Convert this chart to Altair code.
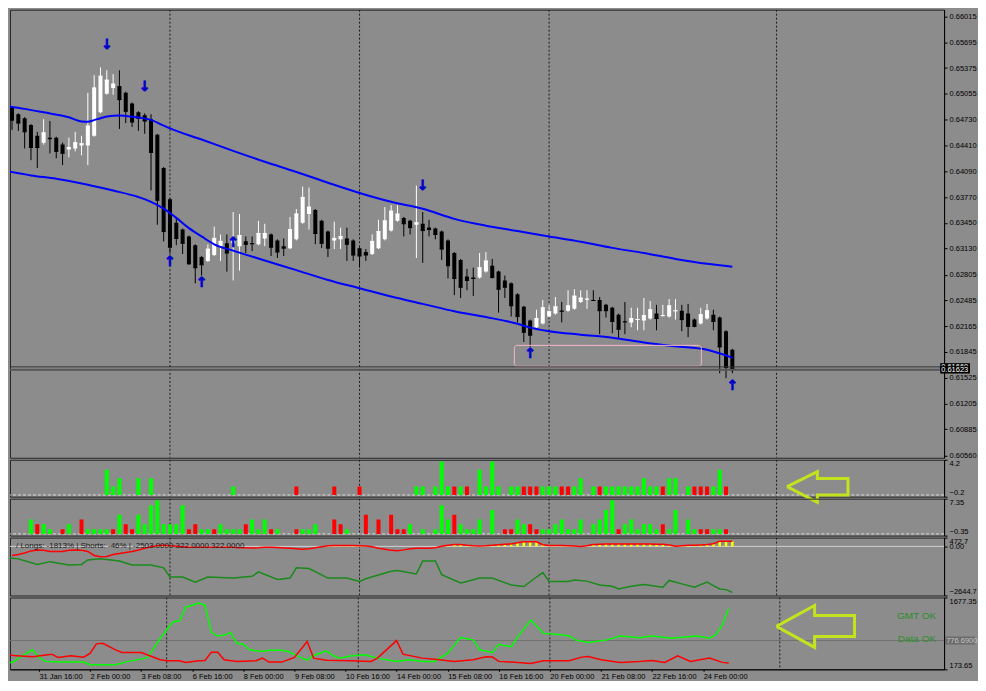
import altair as alt
import pandas as pd

# ---------------- data ----------------
price_ticks = [0.66015, 0.65695, 0.65375, 0.65055, 0.64730, 0.64410, 0.64090, 0.63770, 0.63450,
               0.63130, 0.62805, 0.62485, 0.62165, 0.61845, 0.61525, 0.61205, 0.60885, 0.60560]
time_k = [5, 13, 21, 29, 37, 45, 53, 61, 69, 77, 85, 93, 101, 109]
time_labels = ["31 Jan 16:00", "2 Feb 00:00", "3 Feb 08:00", "6 Feb 16:00", "8 Feb 00:00",
               "9 Feb 08:00", "10 Feb 16:00", "14 Feb 00:00", "15 Feb 08:00", "16 Feb 16:00",
               "20 Feb 00:00", "21 Feb 08:00", "22 Feb 16:00", "24 Feb 00:00"]
week_sep_k = [25, 55, 85, 121]

c_open = [0.64885, 0.64800, 0.64752, 0.64666, 0.64533, 0.64447, 0.64509, 0.64509, 0.64423, 0.64363,
          0.64375, 0.64411, 0.64411, 0.64533, 0.64825, 0.65055, 0.65128, 0.65152, 0.65068, 0.64933,
          0.64825, 0.64788, 0.64739, 0.64545, 0.64132, 0.63743, 0.63451, 0.63367, 0.63281, 0.63172,
          0.63026, 0.62977, 0.63050, 0.63160, 0.63196, 0.63196, 0.63160, 0.63220, 0.63196, 0.63184,
          0.63257, 0.63306, 0.63232, 0.63160, 0.63136, 0.63245, 0.63451, 0.63561, 0.63610, 0.63475,
          0.63342, 0.63232, 0.63245, 0.63257, 0.63232, 0.63136, 0.63087, 0.63063, 0.63136, 0.63245,
          0.63354, 0.63475, 0.63512, 0.63475, 0.63427, 0.63439, 0.63391, 0.63379, 0.63342, 0.63232,
          0.63075, 0.62989, 0.62783, 0.62771, 0.62771, 0.62844, 0.62917, 0.62844, 0.62734, 0.62698,
          0.62564, 0.62407, 0.62236, 0.62152, 0.62200, 0.62285, 0.62322, 0.62358, 0.62358, 0.62382,
          0.62467, 0.62498, 0.62491, 0.62491, 0.62431, 0.62395, 0.62309, 0.62224, 0.62212, 0.62243,
          0.62236, 0.62261, 0.62322, 0.62291, 0.62285, 0.62352, 0.62358, 0.62322, 0.62248, 0.62200,
          0.62261, 0.62309, 0.62273, 0.62103, 0.61872]
c_high = [0.64897, 0.64812, 0.64764, 0.64678, 0.64582, 0.64739, 0.64715, 0.64521, 0.64447, 0.64509,
          0.64582, 0.64533, 0.65068, 0.65286, 0.65383, 0.65347, 0.65298, 0.65347, 0.65080, 0.64946,
          0.64837, 0.64812, 0.64800, 0.64557, 0.64144, 0.63755, 0.63524, 0.63379, 0.63293, 0.63184,
          0.63038, 0.63184, 0.63403, 0.63306, 0.63306, 0.63585, 0.63561, 0.63281, 0.63281, 0.63475,
          0.63439, 0.63318, 0.63245, 0.63257, 0.63524, 0.63622, 0.63901, 0.63889, 0.63622, 0.63488,
          0.63354, 0.63464, 0.63391, 0.63391, 0.63245, 0.63148, 0.63124, 0.63306, 0.63488, 0.63646,
          0.63670, 0.63670, 0.63524, 0.63488, 0.63913, 0.63585, 0.63488, 0.63391, 0.63354, 0.63245,
          0.63087, 0.63001, 0.62880, 0.62893, 0.63075, 0.63087, 0.63001, 0.62856, 0.62795, 0.62710,
          0.62576, 0.62419, 0.62248, 0.62370, 0.62491, 0.62431, 0.62528, 0.62467, 0.62613, 0.62625,
          0.62613, 0.62613, 0.62613, 0.62528, 0.62443, 0.62407, 0.62322, 0.62467, 0.62395, 0.62395,
          0.62516, 0.62479, 0.62431, 0.62431, 0.62503, 0.62503, 0.62431, 0.62443, 0.62261, 0.62395,
          0.62443, 0.62370, 0.62285, 0.62115, 0.61884]
c_low = [0.64606, 0.64594, 0.64375, 0.64229, 0.64132, 0.64423, 0.64314, 0.64253, 0.64168, 0.64265,
         0.64339, 0.64290, 0.64168, 0.64521, 0.64812, 0.65043, 0.65043, 0.64618, 0.64690, 0.64642,
         0.64594, 0.64557, 0.63853, 0.63427, 0.63220, 0.63075, 0.63172, 0.63063, 0.62929, 0.62698,
         0.62795, 0.62965, 0.63038, 0.62977, 0.62844, 0.62734, 0.62856, 0.63075, 0.63099, 0.63172,
         0.63160, 0.63038, 0.63014, 0.63038, 0.63124, 0.63232, 0.63439, 0.63367, 0.63184, 0.63136,
         0.63026, 0.63124, 0.63124, 0.62977, 0.62977, 0.62893, 0.62977, 0.63050, 0.63124, 0.63232,
         0.63342, 0.63464, 0.63281, 0.63306, 0.63014, 0.62953, 0.63281, 0.63245, 0.62989, 0.62759,
         0.62552, 0.62516, 0.62613, 0.62540, 0.62759, 0.62832, 0.62759, 0.62334, 0.62516, 0.62285,
         0.62212, 0.61969, 0.61909, 0.62140, 0.62188, 0.62273, 0.62309, 0.62212, 0.62346, 0.62370,
         0.62455, 0.62382, 0.62479, 0.62066, 0.62273, 0.62078, 0.62017, 0.62066, 0.62152, 0.62115,
         0.62115, 0.62248, 0.62115, 0.62285, 0.62273, 0.62248, 0.62103, 0.62030, 0.62152, 0.62188,
         0.62248, 0.62115, 0.61580, 0.61519, 0.61580]
c_close = [0.64727, 0.64690, 0.64582, 0.64387, 0.64387, 0.64569, 0.64496, 0.64339, 0.64314, 0.64387,
           0.64447, 0.64435, 0.64654, 0.65128, 0.65274, 0.65225, 0.65176, 0.64982, 0.64837, 0.64703,
           0.64752, 0.64715, 0.64326, 0.63731, 0.63342, 0.63148, 0.63257, 0.63196, 0.62941, 0.62893,
           0.62929, 0.63124, 0.63257, 0.63220, 0.63075, 0.63232, 0.63293, 0.63184, 0.63190, 0.63318,
           0.63318, 0.63148, 0.63087, 0.63136, 0.63367, 0.63561, 0.63767, 0.63646, 0.63318, 0.63196,
           0.63136, 0.63257, 0.63281, 0.63184, 0.63050, 0.63038, 0.63050, 0.63220, 0.63342, 0.63475,
           0.63597, 0.63561, 0.63439, 0.63391, 0.63451, 0.63354, 0.63367, 0.63306, 0.63124, 0.62917,
           0.62759, 0.62650, 0.62734, 0.62759, 0.62893, 0.62977, 0.62771, 0.62625, 0.62650, 0.62419,
           0.62285, 0.62090, 0.62054, 0.62261, 0.62395, 0.62346, 0.62407, 0.62352, 0.62419, 0.62540,
           0.62516, 0.62504, 0.62485, 0.62358, 0.62358, 0.62224, 0.62127, 0.62218, 0.62261, 0.62249,
           0.62297, 0.62370, 0.62261, 0.62297, 0.62419, 0.62358, 0.62248, 0.62164, 0.62164, 0.62309,
           0.62358, 0.62224, 0.61908, 0.61653, 0.61623]

band_up_k = [-1, 2, 5, 9, 11, 12, 13, 14, 15, 17, 18, 20, 22, 24, 25, 30, 35, 40, 45, 50, 55,
             60, 65, 70, 75, 80, 85, 90, 95, 100, 105, 110, 114]
band_up_p = [0.64903, 0.64867, 0.64824, 0.64763, 0.64711, 0.64706, 0.64727, 0.64751, 0.64772,
             0.64785, 0.64779, 0.64760, 0.64730, 0.64659, 0.64624, 0.64487, 0.64345, 0.64210,
             0.64083, 0.63949, 0.63822, 0.63712, 0.63625, 0.63500, 0.63415, 0.63348, 0.63281,
             0.63216, 0.63139, 0.63075, 0.63002, 0.62941, 0.62905]
band_lo_k = [-1, 3, 7, 12, 16, 20, 22, 24, 26, 28, 30, 32, 35, 40, 45, 50, 55, 60, 65, 70, 75,
             80, 82, 85, 90, 95, 100, 105, 110, 114]
band_lo_p = [0.64095, 0.64040, 0.63998, 0.63925, 0.63852, 0.63771, 0.63712, 0.63628, 0.63512,
             0.63385, 0.63281, 0.63184, 0.63105, 0.62983, 0.62862, 0.62740, 0.62637, 0.62534,
             0.62443, 0.62352, 0.62279, 0.62196, 0.62148, 0.62103, 0.62060, 0.62023, 0.61963,
             0.61915, 0.61872, 0.61774]

sig_k = [15, 21, 65, 25, 30, 35, 82, 114]
sig_p = [0.65656, 0.65140, 0.63913, 0.62965, 0.62698, 0.63196, 0.61823, 0.61422]
sig_glyph = ["↓", "↓", "↓", "↑", "↑", "↑", "↑", "↑"]

zone_k = [79.5, 109.1]
zone_p = [0.61927, 0.61666]

quote_p = [0.61660, 0.61623]
quote_lab = ["0.61660", "0.61623"]

h1_k = [15, 16, 17, 20, 22, 35, 45, 51, 55, 64, 65, 67, 68, 69, 70, 71, 72, 74, 75, 76,
        77, 79, 80, 81, 82, 83, 84, 85, 86, 87, 88, 89, 90, 92, 93, 94, 95, 96, 97, 98,
        99, 100, 101, 102, 103, 104, 105, 107, 108, 109, 110, 111, 112, 113]
h1_v = [3, 1, 2, 2, 2, 1, 1, 1, 1, 1, 1, 1, 4, 1, 1, 1, 1, 3, 1, 4,
        1, 1, 1, 1, 1, 1, 1, 1, 1, 1, 1, 1, 2, 1, 1, 1, 1, 1, 1, 1,
        1, 2, 1, 1, 1, 2, 2, 1, 1, 1, 1, 1, 3, 1]
h1_col = list("gggggg" "rrr" "ggggg" "r" "g" "r" "gggggg" "rrr" "ggg" "rr" "ggg" "r"
              "ggggggggg" "r" "ggg" "rrr" "gg" "r")

h2_k = [3, 4, 5, 6, 8, 9, 11, 12, 13, 14, 15, 16, 17, 18, 19, 20, 21, 22, 23, 24,
        25, 26, 27, 28, 29, 30, 31, 32, 33, 34, 35, 36, 37, 38, 39, 40, 41, 42, 45, 46,
        47, 48, 51, 52, 53, 56, 58, 60, 61, 62, 63, 65, 67, 68, 69, 70, 71, 72, 73, 74,
        76, 78, 79, 80, 81, 82, 83, 84, 85, 86, 87, 88, 89, 90, 92, 93, 94, 95, 96, 97,
        98, 99, 100, 101, 102, 103, 104, 105, 107, 108, 109, 110, 111, 112, 113]
h2_v = [3, 2, 2, 1, 1, 2, 3, 1, 1, 1, 1, 1, 4, 2, 1, 4, 2, 6, 7, 2,
        2, 2, 6, 1, 2, 1, 1, 1, 2, 1, 1, 1, 2, 3, 1, 3, 1, 1, 1, 1,
        1, 2, 3, 2, 1, 4, 3, 4, 1, 1, 2, 1, 1, 6, 3, 4, 2, 1, 1, 3,
        5, 1, 1, 3, 2, 2, 1, 1, 1, 2, 3, 1, 1, 3, 2, 3, 5, 7, 1, 2,
        3, 1, 2, 2, 1, 2, 1, 5, 3, 1, 1, 1, 1, 1, 1]
h2_col = list("grggrgrggg" "grgrrggggg" "gggrrggrgg" "ggrgggrgrg" "ggrrgrrrrr"
              "gggggrgggg" "grrggrrggg" "ggggggggrg" "gggggrgggg" "rrggr")

p4_red = [-491, -436, -353, -243, -199, -215, -270, -270, -270, -215,
          -199, -215, -270, -491, -563, -546, -436, -381, -326, -270,
          -199, -105, -22, 33, 61, 33, 6, -22, -50, -50,
          -50, -50, -50, -50, -50, -50, -77, -77, -88, -77,
          -50, -50, -66, -88, -105, -132, -160, -132, -77, -22,
          33, 44, 44, 44, 44, 33, 22, -22, -105, -160,
          -215, -232, -188, -132, -105, -105, -105, -77, 6, 61,
          99, 99, 61, 33, 22, 33, 61, 88, 116, 132,
          199, 243, 243, 243, 88, 44, 44, 44, 33, 22,
          -11, 33, 99, 116, 132, 132, 132, 132, 132, 132,
          132, 132, 116, 116, 77, 6, 33, 61, 61, 77,
          99, 144, 282, 282, 282]
p4_green_k = [-1, 1, 4, 6, 9, 11, 12, 14, 17, 19, 22, 24, 25, 27, 29, 31, 35, 38, 39, 42,
              44, 45, 47, 50, 53, 55, 56, 60, 61, 64, 65, 67, 68, 71, 72, 74, 76, 77, 79, 81,
              83, 84, 85, 88, 89, 91, 93, 95, 96, 98, 100, 103, 104, 106, 108, 110, 111, 112, 113, 114]
p4_green_v = [-602, -673, -972, -822, -1005, -972, -729, -673, -784, -1005,
              -1005, -1154, -1650, -1650, -1926, -1650, -1706, -1612, -1374, -1777,
              -1706, -1154, -1192, -1706, -1706, -1888, -1744, -1336, -1303, -1485,
              -784, -784, -1524, -1965, -1888, -1706, -1706, -1833, -2076, -2164,
              -1650, -1413, -1888, -1888, -1816, -1871, -2076, -2147, -2296, -2147,
              -2053, -2202, -1833, -2020, -2202, -1926, -2109, -2296, -2329, -2478]
p4_title = "/  Longs: -1813% | Shorts: -46% |  -2503.0000 322.0000 322.0000"

p5_green_k = [-1, 1, 2, 4, 5, 6, 8, 10, 12, 13, 17, 19, 21, 22, 24, 25, 26, 27, 28, 29,
              30, 31, 32, 33, 34, 35, 36, 37, 38, 40, 41, 43, 44, 46, 47, 48, 50, 51, 52, 54,
              56, 58, 61, 63, 65, 67, 69, 71, 73, 74, 76, 77, 78, 79, 80, 82, 84, 86, 88, 89,
              91, 94, 96, 99, 101, 104, 108, 110, 111, 112, 113]
p5_green_v = [284, 325, 423, 582, 423, 340, 325, 325, 325, 271, 271, 340, 387, 423, 823, 997, 1169, 1184, 1480, 1516,
              1563, 1516, 947, 870, 885, 947, 719, 698, 582, 547, 574, 574, 547, 423, 366, 464, 561, 464, 408, 458,
              478, 408, 340, 375, 340, 340, 512, 837, 790, 582, 526, 698, 665, 651, 858, 1204, 926, 906, 873, 790,
              734, 790, 873, 837, 873, 823, 873, 823, 906, 1101, 1445]
p5_red_k = [-1, 1, 4, 7, 8, 10, 12, 13, 14, 15, 17, 18, 21, 24, 25, 27, 28, 30, 31, 32,
            33, 34, 36, 39, 40, 41, 43, 45, 47, 48, 50, 54, 57, 58, 61, 62, 65, 67, 70, 73,
            75, 76, 77, 79, 82, 84, 88, 90, 91, 93, 96, 99, 101, 103, 105, 107, 110, 112, 113]
p5_red_v = [512, 464, 437, 491, 423, 458, 429, 506, 707, 719, 582, 526, 526, 375, 354, 354, 319, 354, 360, 533,
            533, 375, 340, 354, 408, 325, 325, 423, 754, 408, 366, 354, 340, 408, 775, 491, 408, 387, 340, 375,
            437, 430, 340, 325, 298, 354, 354, 429, 443, 375, 319, 340, 360, 319, 458, 340, 408, 319, 304]
p5_level = 776.69
status_text = ["GMT OK", "Data OK"]
status_v = [1280, 815]

# hollow call-out arrows (annotation outlines, in each panel's data units)
callout1_k = [122.66, 127.45, 127.45, 132.3, 132.3, 127.45, 127.45, 122.66]
callout1_v = [0.99, 2.77, 1.98, 1.98, 0.0, 0.0, -0.88, 0.99]
callout2_k = [120.47, 126.45, 126.45, 132.7, 132.7, 126.45, 126.45, 120.47]
callout2_v = [1072, 1510, 1301, 1301, 863, 863, 633, 1072]

# ---------------- chart ----------------
FONT = "Liberation Sans"
W = 936
xs = alt.Scale(domain=[0.47, 0.47 + W / 6.4], nice=False, zero=False)
BOX_K = [146.9, 151.6]


def X(field="k", axis=None):
    return alt.X(f"{field}:Q", scale=xs, axis=axis)


def Yf(field, scale, axis):
    return alt.Y(f"{field}:Q", scale=scale, axis=axis)


def grid_layer(xaxis=None):
    return alt.Chart(pd.DataFrame({"k": week_sep_k})).mark_rule(
        color="#1c1c1c", strokeDash=[2, 2], strokeWidth=1, clip=True).encode(x=X("k", xaxis))


# ---- main price panel ----
ys_main = alt.Scale(domain=[0.60530, 0.66100], nice=False, zero=False)
ax_main = alt.Axis(orient="right", values=price_ticks, format=".5f", title=None, labelFlush=False)
cdf = pd.DataFrame({"k": list(range(len(c_open))), "o": c_open, "h": c_high, "l": c_low, "c": c_close})
cdf["dir"] = ["bull" if c >= o else "bear" for o, c in zip(c_open, c_close)]
dir_col = alt.Color("dir:N", scale=alt.Scale(domain=["bull", "bear"], range=["#ffffff", "#000000"]), legend=None)


def YM(field):
    return Yf(field, ys_main, ax_main)


wick = alt.Chart(cdf).mark_rule(strokeWidth=1, clip=True).encode(x=X(), y=YM("l"), y2="h:Q", color=dir_col)
body = alt.Chart(cdf).mark_bar(size=4, clip=True).encode(x=X(), y=YM("o"), y2="c:Q", color=dir_col)
ctick = alt.Chart(cdf).transform_calculate(ka="datum.k - 0.33", kb="datum.k + 0.33").mark_rule(
    strokeWidth=1, clip=True).encode(x=X("ka"), x2="kb:Q", y=YM("c"), color=dir_col)

band_df = pd.concat([
    pd.DataFrame({"k": band_up_k, "p": band_up_p, "band": "upper"}),
    pd.DataFrame({"k": band_lo_k, "p": band_lo_p, "band": "lower"}),
])
bands = alt.Chart(band_df).mark_line(color="#0000ff", strokeWidth=2, clip=True, interpolate="monotone").encode(
    x=X(), y=YM("p"), detail="band:N")

zone = alt.Chart(pd.DataFrame({"k0": [zone_k[0]], "k1": [zone_k[1]], "p0": [zone_p[0]], "p1": [zone_p[1]]})).mark_rect(
    fillOpacity=0, stroke="#f5b5c5", strokeWidth=1, cornerRadius=3, clip=True).encode(
    x=X("k0"), x2="k1:Q", y=YM("p0"), y2="p1:Q")

ask_line = alt.Chart(pd.DataFrame({"p": [quote_p[0]]})).mark_rule(color="#333333", strokeWidth=1).encode(y=YM("p"))
bid_line = alt.Chart(pd.DataFrame({"p": [quote_p[1]]})).mark_rule(color="#555555", strokeWidth=2).encode(y=YM("p"))

sig = alt.Chart(pd.DataFrame({"k": sig_k, "p": sig_p, "g": sig_glyph})).mark_text(
    color="#0000cc", stroke="#0000cc", strokeWidth=0.7, font="DejaVu Sans", fontWeight="bold", fontSize=14,
    baseline="middle", align="center", clip=True).encode(x=X(), y=YM("p"), text="g:N")

qdf = pd.DataFrame({"p": quote_p, "lab": quote_lab, "i": [0, 1]})


def quote_layers(i):
    base = alt.Chart(qdf).transform_filter(f"datum.i == {i}").transform_calculate(
        ka=str(BOX_K[0]), kb=str(BOX_K[1]), pa="datum.p + 0.00046", pb="datum.p - 0.00046")
    box = base.mark_rect(color="#000000").encode(x=X("ka"), x2="kb:Q", y=YM("pa"), y2="pb:Q")
    txt = base.mark_text(color="#ffffff", font=FONT, fontSize=7.5, align="left", baseline="middle", dx=1).encode(
        x=X("ka"), y=YM("p"), text="lab:N")
    return [box, txt]


main = alt.layer(grid_layer(), wick, body, ctick, bands, zone, ask_line, bid_line, sig,
                 *quote_layers(0), *quote_layers(1)).properties(width=W, height=449)

# ---- histogram panels ----
sig_col = alt.Color("col:N", scale=alt.Scale(domain=["g", "r"], range=["#00ff00", "#ff0000"]), legend=None)


def hist_panel(ks, vs, cols, dom, vals, fmt, h, callout=None):
    ysc = alt.Scale(domain=dom, nice=False, zero=False)
    ax = alt.Axis(orient="right", values=vals, format=fmt, title=None, labelFlush=True)
    df = pd.DataFrame({"k": ks, "v": vs, "col": cols})
    zero = alt.Chart(pd.DataFrame({"v": [0]})).mark_rule(color="#dcdcdc", strokeDash=[3, 2], strokeWidth=1).encode(
        y=Yf("v", ysc, ax))
    bars = alt.Chart(df).transform_calculate(z="0").mark_bar(size=4, clip=True).encode(
        x=X(), y=Yf("v", ysc, ax), y2="z:Q", color=sig_col)
    layers = [grid_layer(), zero, bars]
    if callout is not None:
        ck, cv = callout
        cdf_ = pd.DataFrame({"k": ck, "v": cv, "i": list(range(len(ck)))})
        layers.append(alt.Chart(cdf_).mark_line(color="#c2e31e", strokeWidth=3, clip=False, strokeJoin="miter").encode(
            x=X(), y=Yf("v", ysc, ax), order="i:Q"))
    return alt.layer(*layers).properties(width=W, height=h)


h1 = hist_panel(h1_k, h1_v, h1_col, [-0.2, 4.2], [4.2, -0.2], ".1f", 37, (callout1_k, callout1_v))
h2 = hist_panel(h2_k, h2_v, h2_col, [-0.35, 7.35], [7.35, -0.35], ".2f", 37)

# ---- long/short panel ----
ys4 = alt.Scale(domain=[-2644.7, 472.7], nice=False, zero=False)
ax4 = alt.Axis(orient="right", values=[472.7, 0, -2644.7], title=None, labelFlush=True,
               labelExpr="datum.value == 0 ? '0.00' : format(datum.value, '.1f')")
p4df = pd.DataFrame({"k": list(range(len(p4_red))), "v": p4_red})
p4_zero = alt.Chart(pd.DataFrame({"v": [0]})).mark_rule(color="#cfcfcf", strokeWidth=1).encode(y=Yf("v", ys4, ax4))
p4_yellow = alt.Chart(p4df).transform_filter("datum.v > 0").transform_calculate(z="0").mark_bar(
    size=2.5, color="#ffff00", clip=True).encode(x=X(), y=Yf("v", ys4, ax4), y2="z:Q")
p4_redl = alt.Chart(p4df).mark_line(color="#ff0000", strokeWidth=1.5, clip=True).encode(
    x=X(), y=Yf("v", ys4, ax4))
p4_greenl = alt.Chart(pd.DataFrame({"k": p4_green_k, "v": p4_green_v})).mark_line(
    color="#1a8a1a", strokeWidth=1.5, clip=True).encode(x=X(), y=Yf("v", ys4, ax4))
p4_txt = alt.Chart(pd.DataFrame({"k": [0.63], "v": [40], "t": [p4_title]})).mark_text(
    font=FONT, fontSize=8, color="#1a1a1a", align="left", baseline="middle").encode(
    x=X(), y=Yf("v", ys4, ax4), text="t:N")
p4 = alt.layer(grid_layer(), p4_zero, p4_yellow, p4_redl, p4_greenl, p4_txt).properties(width=W, height=58)

# ---- bottom panel ----
ys5 = alt.Scale(domain=[173.65, 1677.35], nice=False, zero=False)
ax5 = alt.Axis(orient="right", values=[1677.35, 173.65], format=".2f", title=None, labelFlush=True)
lbl_expr = ("[" + ",".join("'" + s + "'" for s in time_labels) + "][indexof(["
            + ",".join(str(v) for v in time_k) + "], datum.value)]")
xax = alt.Axis(orient="bottom", values=time_k, labelExpr=lbl_expr, labelAlign="left", title=None,
               labelFlush=False, labelOverlap=False, tickSize=2, labelPadding=1)


def X5(field="k"):
    return X(field, xax)


p5_lvl = alt.Chart(pd.DataFrame({"v": [p5_level]})).mark_rule(color="#707070", strokeWidth=1).encode(
    y=Yf("v", ys5, ax5))
p5_g = alt.Chart(pd.DataFrame({"k": p5_green_k, "v": p5_green_v})).mark_line(
    color="#00ff00", strokeWidth=1.5, clip=True).encode(x=X5(), y=Yf("v", ys5, ax5))
p5_r = alt.Chart(pd.DataFrame({"k": p5_red_k, "v": p5_red_v})).mark_line(
    color="#ff0000", strokeWidth=1.5, clip=True).encode(x=X5(), y=Yf("v", ys5, ax5))
p5_status = alt.Chart(pd.DataFrame({"k": [145.47, 145.47], "v": status_v, "t": status_text})).mark_text(
    font=FONT, fontSize=10, color="#2b8f2b", align="right", baseline="middle").encode(
    x=X5(), y=Yf("v", ys5, ax5), text="t:N")
c2df = pd.DataFrame({"k": callout2_k, "v": callout2_v, "i": list(range(len(callout2_k)))})
p5_call = alt.Chart(c2df).mark_line(color="#c2e31e", strokeWidth=3, clip=False, strokeJoin="miter").encode(
    x=X5(), y=Yf("v", ys5, ax5), order="i:Q")
lvl_df = pd.DataFrame({"v": [p5_level], "t": [f"{p5_level:.4f}"]})
p5_box = alt.Chart(lvl_df).transform_calculate(
    ka=str(BOX_K[0]), kb=str(BOX_K[1]), va="datum.v + 84", vb="datum.v - 84").mark_rect(
    color="#6c6c6c").encode(x=X5("ka"), x2="kb:Q", y=Yf("va", ys5, ax5), y2="vb:Q")
p5_boxt = alt.Chart(lvl_df).transform_calculate(ka=str(BOX_K[0])).mark_text(
    font=FONT, fontSize=7.5, color="#c4c4c4", align="left", baseline="middle", dx=1).encode(
    x=X5("ka"), y=Yf("v", ys5, ax5), text="t:N")
p5 = alt.layer(grid_layer(xax), p5_lvl, p5_g, p5_r, p5_status, p5_call, p5_box, p5_boxt).properties(
    width=W, height=72)

chart = alt.vconcat(main, h1, h2, p4, p5, spacing=2, bounds="flush").resolve_scale(
    color="independent"
).properties(
    background="#8c8c8c", padding=0
).configure_view(stroke="#262626", strokeWidth=1).configure_axis(
    labelFont=FONT, labelFontSize=7.5, labelColor="#000000", domainColor="#000000", tickColor="#000000",
    tickSize=3, labelPadding=2, grid=False, labelOverlap=False
)

chart.save("out.html", embed_options={"renderer": "svg", "actions": False})
